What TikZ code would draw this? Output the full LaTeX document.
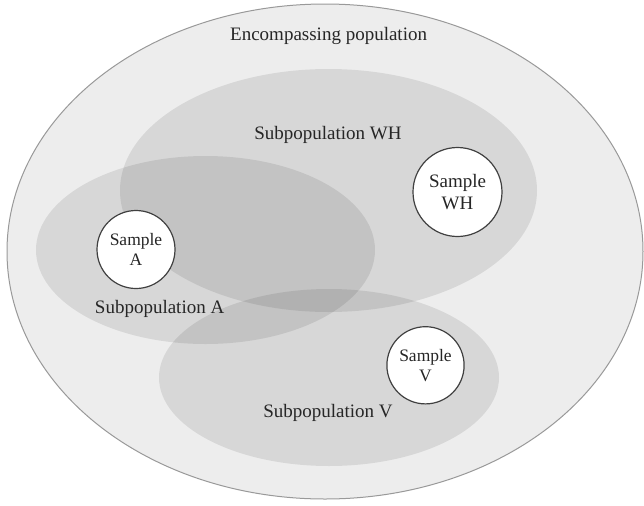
\documentclass[tikz,border=0pt]{standalone}
\usepackage{fontspec}
\setmainfont{Liberation Serif}
\usetikzlibrary{shapes.geometric}

\begin{document}
\begin{tikzpicture}[
  x=0.5pt, y=-0.5pt,
  every node/.style={font=\fontsize{9.5}{10.8}\selectfont, text=black!85},
  popbox/.style={ellipse, draw=gray!80, line width=0.5pt, fill=gray!14, inner sep=0pt},
  subpop/.style={ellipse, fill=black, fill opacity=0.09, inner sep=0pt},
  sample/.style={circle, draw=black!75, line width=0.6pt, fill=white, inner sep=0pt, align=center},
  lbl/.style={anchor=base}
]
  \useasboundingbox (0,0) rectangle (644,505);
  \fill[white] (0,0) rectangle (644,505);

  % populations
  \node[popbox, minimum width=318pt, minimum height=247.5pt] (enc) at (325,251.5) {};
  \node[subpop, minimum width=208.5pt, minimum height=121.5pt] (subWH) at (328.5,190.5) {};
  \node[subpop, minimum width=169.5pt, minimum height=94pt] (subA) at (205.5,250) {};
  \node[subpop, minimum width=170pt, minimum height=88.5pt] (subV) at (329,377.5) {};

  % samples
  \node[sample, minimum size=44.5pt] (smpWH) at (457.5,192) {Sample\\WH};
  \node[sample, minimum size=39pt, font=\fontsize{8.75}{10.35}\selectfont] (smpA) at (136,249.5) {Sample\\A};
  \node[sample, minimum size=38.6pt, font=\fontsize{8.75}{10.1}\selectfont] (smpV) at (425.5,365.3) {Sample\\V};

  % labels
  \node[lbl] (encLbl) at (328.6,40.7) {Encompassing population};
  \node[lbl] (whLbl) at (328,139) {Subpopulation WH};
  \node[lbl] (aLbl) at (159.6,313) {Subpopulation A};
  \node[lbl] (vLbl) at (328,417) {Subpopulation V};
\end{tikzpicture}
\end{document}
